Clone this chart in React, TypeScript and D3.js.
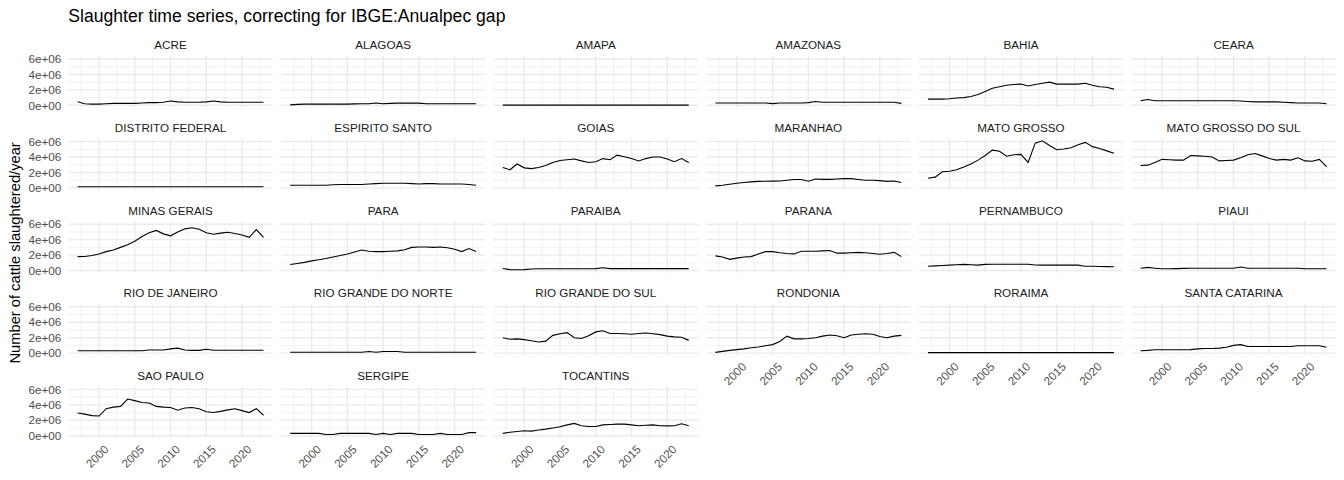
import React from 'react';
import * as d3 from 'd3';

// slaughter per state, millions of head per year, 1997..2023
const years = [1997, 1998, 1999, 2000, 2001, 2002, 2003, 2004, 2005, 2006, 2007, 2008, 2009, 2010,
  2011, 2012, 2013, 2014, 2015, 2016, 2017, 2018, 2019, 2020, 2021, 2022, 2023];

const states = [
  'ACRE', 'ALAGOAS', 'AMAPA', 'AMAZONAS', 'BAHIA', 'CEARA',
  'DISTRITO FEDERAL', 'ESPIRITO SANTO', 'GOIAS', 'MARANHAO', 'MATO GROSSO', 'MATO GROSSO DO SUL',
  'MINAS GERAIS', 'PARA', 'PARAIBA', 'PARANA', 'PERNAMBUCO', 'PIAUI',
  'RIO DE JANEIRO', 'RIO GRANDE DO NORTE', 'RIO GRANDE DO SUL', 'RONDONIA', 'RORAIMA', 'SANTA CATARINA',
  'SAO PAULO', 'SERGIPE', 'TOCANTINS',
];

const acre = [0.45, 0.2, 0.15, 0.15, 0.2, 0.25, 0.25, 0.25, 0.25, 0.3, 0.35, 0.35, 0.4, 0.55, 0.45, 0.4, 0.4, 0.4, 0.45, 0.55, 0.45, 0.4, 0.4, 0.4, 0.4, 0.4, 0.4];
const alagoas = [0.05, 0.12, 0.15, 0.15, 0.15, 0.15, 0.15, 0.15, 0.15, 0.18, 0.2, 0.2, 0.3, 0.2, 0.25, 0.28, 0.28, 0.28, 0.28, 0.2, 0.2, 0.2, 0.2, 0.2, 0.2, 0.2, 0.2];
const amapa = [0.02, 0.02, 0.02, 0.02, 0.02, 0.02, 0.02, 0.02, 0.02, 0.02, 0.02, 0.02, 0.02, 0.02, 0.02, 0.02, 0.02, 0.02, 0.02, 0.02, 0.02, 0.02, 0.02, 0.02, 0.02, 0.02, 0.02];
const amazonas = [0.3, 0.3, 0.3, 0.3, 0.3, 0.3, 0.3, 0.3, 0.22, 0.3, 0.3, 0.3, 0.3, 0.35, 0.5, 0.4, 0.4, 0.4, 0.4, 0.4, 0.4, 0.4, 0.4, 0.4, 0.4, 0.4, 0.25];
const bahia = [0.8, 0.8, 0.8, 0.85, 0.95, 1.0, 1.15, 1.4, 1.8, 2.2, 2.4, 2.6, 2.7, 2.75, 2.5, 2.7, 2.85, 3.0, 2.75, 2.75, 2.75, 2.75, 2.85, 2.6, 2.4, 2.35, 2.1];
const ceara = [0.6, 0.75, 0.6, 0.6, 0.6, 0.6, 0.6, 0.6, 0.6, 0.6, 0.6, 0.6, 0.6, 0.6, 0.55, 0.5, 0.45, 0.45, 0.45, 0.45, 0.4, 0.35, 0.3, 0.3, 0.3, 0.3, 0.2];
const distritoFederal = [0.15, 0.15, 0.15, 0.15, 0.15, 0.15, 0.15, 0.15, 0.15, 0.15, 0.15, 0.15, 0.15, 0.15, 0.15, 0.15, 0.15, 0.15, 0.15, 0.15, 0.15, 0.15, 0.15, 0.15, 0.15, 0.15, 0.15];
const espiritoSanto = [0.35, 0.35, 0.35, 0.35, 0.35, 0.35, 0.4, 0.45, 0.45, 0.45, 0.45, 0.5, 0.55, 0.6, 0.6, 0.6, 0.6, 0.55, 0.5, 0.55, 0.55, 0.5, 0.5, 0.5, 0.5, 0.45, 0.35];
const goias = [2.65, 2.35, 3.1, 2.6, 2.5, 2.65, 2.9, 3.3, 3.55, 3.65, 3.75, 3.5, 3.3, 3.4, 3.8, 3.65, 4.25, 4.05, 3.8, 3.5, 3.8, 4.0, 4.0, 3.75, 3.4, 3.8, 3.3];
const maranhao = [0.26, 0.35, 0.48, 0.6, 0.7, 0.78, 0.85, 0.87, 0.88, 0.9, 1.0, 1.09, 1.09, 0.87, 1.15, 1.1, 1.1, 1.15, 1.2, 1.2, 1.1, 1.0, 1.0, 0.95, 0.85, 0.9, 0.7];
const matoGrosso = [1.26, 1.4, 2.1, 2.15, 2.35, 2.7, 3.1, 3.6, 4.2, 4.9, 4.75, 4.1, 4.3, 4.35, 3.3, 5.8, 6.1, 5.5, 4.95, 5.05, 5.2, 5.6, 5.9, 5.35, 5.1, 4.8, 4.5];
const matoGrossoDoSul = [2.9, 2.95, 3.3, 3.7, 3.65, 3.6, 3.6, 4.2, 4.15, 4.1, 4.0, 3.5, 3.55, 3.6, 3.9, 4.3, 4.45, 4.15, 3.8, 3.6, 3.7, 3.6, 3.9, 3.5, 3.45, 3.7, 2.75];
const minasGerais = [1.8, 1.82, 1.95, 2.15, 2.45, 2.65, 3.0, 3.35, 3.8, 4.4, 4.9, 5.2, 4.75, 4.5, 5.0, 5.4, 5.55, 5.35, 4.9, 4.7, 4.85, 4.95, 4.8, 4.6, 4.3, 5.3, 4.3];
const para = [0.77, 0.9, 1.05, 1.25, 1.4, 1.55, 1.75, 1.95, 2.15, 2.4, 2.65, 2.5, 2.45, 2.45, 2.5, 2.55, 2.7, 3.0, 3.05, 3.05, 3.0, 3.05, 2.95, 2.75, 2.45, 2.85, 2.45];
const paraiba = [0.25, 0.12, 0.1, 0.12, 0.2, 0.22, 0.22, 0.22, 0.22, 0.22, 0.22, 0.22, 0.22, 0.25, 0.35, 0.25, 0.25, 0.25, 0.25, 0.25, 0.25, 0.25, 0.25, 0.25, 0.25, 0.25, 0.25];
const parana = [1.9, 1.75, 1.45, 1.6, 1.75, 1.8, 2.15, 2.45, 2.45, 2.3, 2.2, 2.15, 2.5, 2.5, 2.5, 2.55, 2.6, 2.25, 2.25, 2.3, 2.35, 2.3, 2.2, 2.1, 2.2, 2.35, 1.8];
const pernambuco = [0.55, 0.6, 0.65, 0.7, 0.75, 0.8, 0.75, 0.7, 0.8, 0.82, 0.82, 0.82, 0.82, 0.82, 0.82, 0.72, 0.7, 0.7, 0.7, 0.7, 0.7, 0.7, 0.55, 0.55, 0.52, 0.5, 0.48];
const piaui = [0.3, 0.4, 0.3, 0.22, 0.22, 0.25, 0.28, 0.3, 0.3, 0.3, 0.3, 0.3, 0.3, 0.3, 0.45, 0.3, 0.3, 0.3, 0.3, 0.3, 0.3, 0.3, 0.3, 0.22, 0.22, 0.22, 0.22];
const rioDeJaneiro = [0.3, 0.3, 0.3, 0.3, 0.3, 0.3, 0.3, 0.3, 0.3, 0.3, 0.4, 0.4, 0.4, 0.55, 0.65, 0.4, 0.35, 0.35, 0.5, 0.38, 0.38, 0.38, 0.38, 0.38, 0.38, 0.38, 0.38];
const rioGrandeDoNorte = [0.12, 0.12, 0.12, 0.12, 0.12, 0.12, 0.12, 0.12, 0.12, 0.12, 0.12, 0.2, 0.12, 0.2, 0.2, 0.2, 0.12, 0.12, 0.12, 0.12, 0.12, 0.12, 0.12, 0.12, 0.12, 0.12, 0.12];
const rioGrandeDoSul = [2.0, 1.8, 1.85, 1.75, 1.6, 1.45, 1.55, 2.3, 2.5, 2.65, 2.0, 1.9, 2.25, 2.75, 2.9, 2.55, 2.55, 2.5, 2.45, 2.55, 2.6, 2.5, 2.4, 2.2, 2.1, 2.05, 1.65];
const rondonia = [0.1, 0.22, 0.35, 0.45, 0.55, 0.7, 0.8, 0.95, 1.1, 1.5, 2.2, 1.85, 1.85, 1.9, 2.0, 2.2, 2.35, 2.25, 2.0, 2.35, 2.45, 2.5, 2.45, 2.15, 2.0, 2.2, 2.3];
const roraima = [0.06, 0.06, 0.06, 0.06, 0.06, 0.06, 0.06, 0.06, 0.06, 0.06, 0.06, 0.06, 0.06, 0.06, 0.06, 0.06, 0.06, 0.06, 0.06, 0.06, 0.06, 0.06, 0.06, 0.06, 0.06, 0.06, 0.06];
const santaCatarina = [0.3, 0.35, 0.43, 0.43, 0.43, 0.43, 0.43, 0.45, 0.55, 0.6, 0.6, 0.65, 0.75, 1.0, 1.1, 0.85, 0.85, 0.85, 0.85, 0.85, 0.85, 0.85, 0.95, 0.95, 0.95, 0.95, 0.75];
const saoPaulo = [2.95, 2.8, 2.6, 2.55, 3.5, 3.7, 3.8, 4.75, 4.55, 4.3, 4.25, 3.8, 3.7, 3.65, 3.3, 3.6, 3.65, 3.5, 3.1, 3.0, 3.15, 3.35, 3.5, 3.25, 3.0, 3.5, 2.65];
const sergipe = [0.3, 0.3, 0.3, 0.3, 0.3, 0.15, 0.15, 0.3, 0.3, 0.3, 0.3, 0.3, 0.15, 0.3, 0.15, 0.3, 0.3, 0.3, 0.15, 0.15, 0.15, 0.3, 0.15, 0.15, 0.15, 0.4, 0.4];
const tocantins = [0.3, 0.45, 0.55, 0.65, 0.6, 0.75, 0.85, 1.0, 1.15, 1.4, 1.6, 1.3, 1.2, 1.2, 1.4, 1.45, 1.5, 1.5, 1.4, 1.3, 1.35, 1.4, 1.3, 1.28, 1.3, 1.55, 1.3];

const series = [
  acre, alagoas, amapa, amazonas, bahia, ceara,
  distritoFederal, espiritoSanto, goias, maranhao, matoGrosso, matoGrossoDoSul,
  minasGerais, para, paraiba, parana, pernambuco, piaui,
  rioDeJaneiro, rioGrandeDoNorte, rioGrandeDoSul, rondonia, roraima, santaCatarina,
  saoPaulo, sergipe, tocantins,
];

const UNIT = 1e6;
const yTicks = [0, 2e6, 4e6, 6e6];
const yTickLabels = ['0e+00', '2e+06', '4e+06', '6e+06'];
const yMinor = [1e6, 3e6, 5e6];
const xTicks = [2000, 2005, 2010, 2015, 2020];
const xMinor = [1997.5, 2002.5, 2007.5, 2012.5, 2017.5, 2022.5];

const W = 1344;
const H = 480;
const NCOL = 6;
const left = 68.3;
const panelW = 204.5;
const gapX = 8.1;
const top0 = 55.9;
const rowPitch = 82.6;
const panelH = 51.6;

const font = '"Liberation Sans", Arial, sans-serif';
const grid = '#EBEBEB';

export default function App() {
  const all = series.flat().map(v => v * UNIT);
  const lo = d3.min(all) as number;
  const hi = d3.max(all) as number;
  const padY = (hi - lo) * 0.05;
  const y = d3.scaleLinear().domain([lo - padY, hi + padY]).range([panelH, 0]);
  const x0 = d3.min(years) as number;
  const x1 = d3.max(years) as number;
  const padX = (x1 - x0) * 0.05;
  const x = d3.scaleLinear().domain([x0 - padX, x1 + padX]).range([0, panelW]);

  const line = d3.line<number>()
    .x((_, i) => x(years[i]))
    .y(d => y(d * UNIT));

  const nRows = Math.ceil(states.length / NCOL);
  const gridTop = top0;
  const gridBottom = top0 + (nRows - 1) * rowPitch + panelH;

  return (
    <svg width={W} height={H} style={{ position: 'absolute', left: 0, top: 0, background: '#fff' }}
      fontFamily={font}>
      <rect width={W} height={H} fill="#fff" />
      <text x={left} y={21.7} fontSize={17.6} fill="#000">
        Slaughter time series, correcting for IBGE:Anualpec gap
      </text>
      <text transform={`translate(20,${(gridTop + gridBottom) / 2 + 6}) rotate(-90)`}
        textAnchor="middle" fontSize={14.7} fill="#000">
        Number of cattle slaughtered/year
      </text>
      {states.map((name, i) => {
        const col = i % NCOL;
        const row = Math.floor(i / NCOL);
        const px = left + col * (panelW + gapX);
        const py = top0 + row * rowPitch;
        const showX = i + NCOL >= states.length;
        return (
          <g key={name} transform={`translate(${px},${py})`}>
            <text x={panelW / 2} y={-6.6} textAnchor="middle" fontSize={11.7} fill="#1A1A1A">
              {name}
            </text>
            {yMinor.map(v => (
              <line key={'ym' + v} x1={0} x2={panelW} y1={y(v)} y2={y(v)} stroke={grid} strokeWidth={0.7} />
            ))}
            {xMinor.map(v => (
              <line key={'xm' + v} x1={x(v)} x2={x(v)} y1={0} y2={panelH} stroke={grid} strokeWidth={0.7} />
            ))}
            {yTicks.map(v => (
              <line key={'y' + v} x1={0} x2={panelW} y1={y(v)} y2={y(v)} stroke={grid} strokeWidth={1.4} />
            ))}
            {xTicks.map(v => (
              <line key={'x' + v} x1={x(v)} x2={x(v)} y1={0} y2={panelH} stroke={grid} strokeWidth={1.4} />
            ))}
            <path d={line(series[i]) || ''} fill="none" stroke="#000" strokeWidth={1.1} />
            {col === 0 && yTicks.map((v, k) => (
              <text key={'yl' + v} x={-7} y={y(v)} dy="0.36em" textAnchor="end" fontSize={11.7} fill="#4D4D4D">
                {yTickLabels[k]}
              </text>
            ))}
            {showX && xTicks.map(v => (
              <text key={'xl' + v} transform={`translate(${x(v) + 4},${panelH + 6}) rotate(-45)`}
                dy="0.75em" textAnchor="end" fontSize={11.7} fill="#4D4D4D">
                {v}
              </text>
            ))}
          </g>
        );
      })}
    </svg>
  );
}
